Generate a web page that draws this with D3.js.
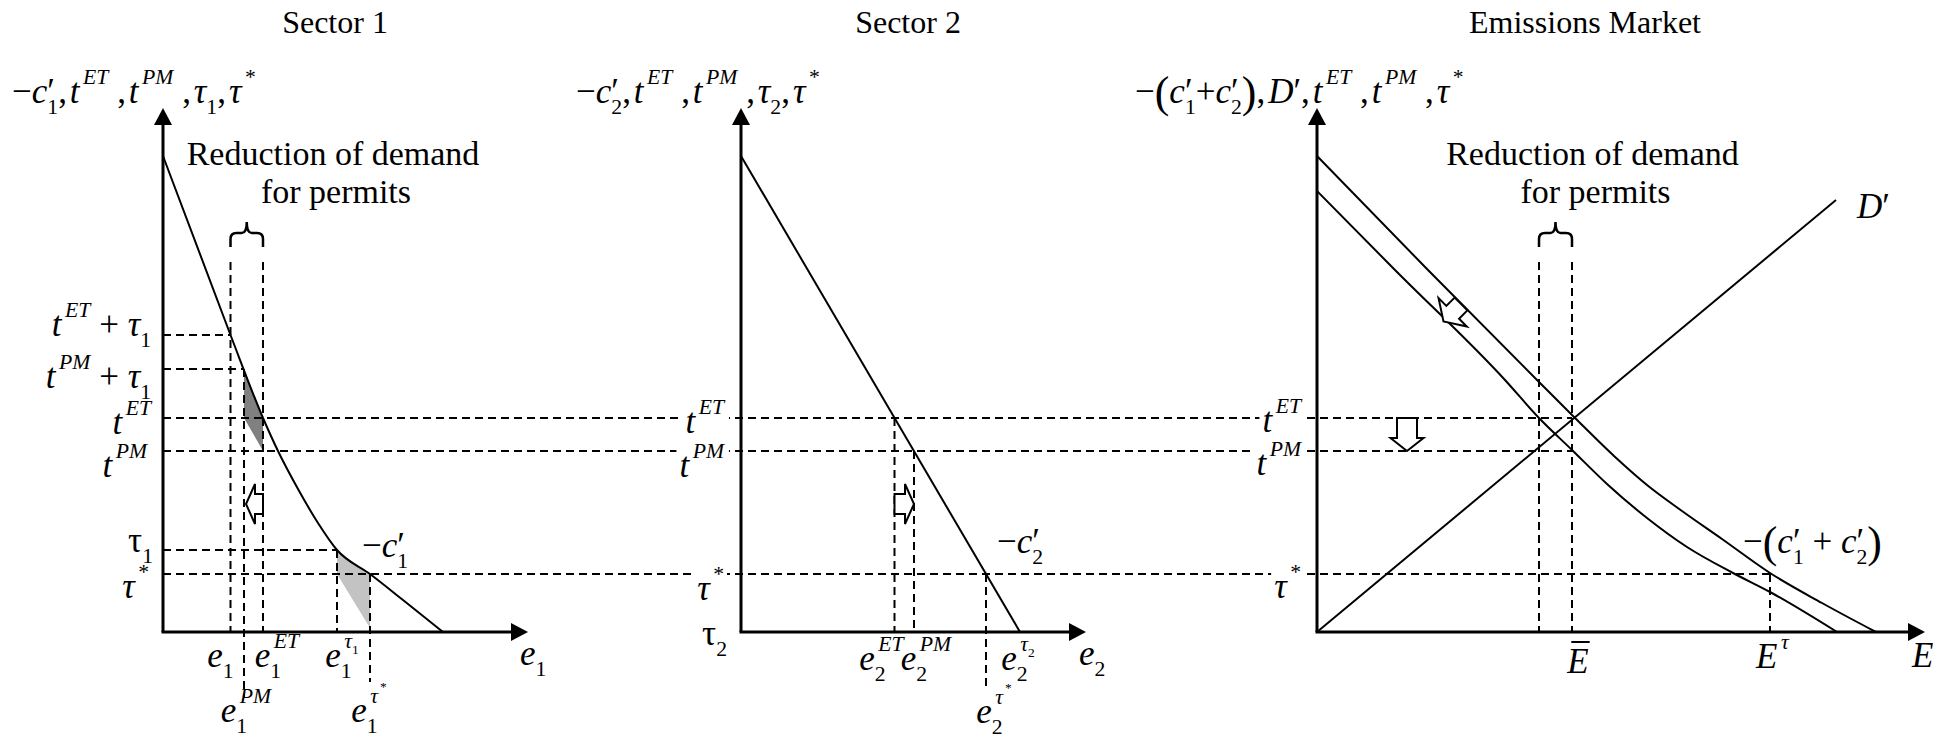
<!DOCTYPE html>
<html>
<head>
<meta charset="utf-8">
<script src="https://cdn.jsdelivr.net/npm/d3@7"></script>
<style>
    body { margin: 0; background: #fff; }
    svg text { font-family: "Liberation Serif", "Times New Roman", serif; fill: #000; }
</style>
</head>
<body>
<svg id="chart" width="1955" height="739"></svg>
<script>
(function() {
    // ---- values (common price scale 0..100) ----
    var titles = ["Sector 1", "Sector 2", "Emissions Market"];
    var tETtau1 = 59.4, tPMtau1 = 52.6, tET = 42.8, tPM = 36.2, tau1 = 16.4, tauStar = 11.6;

    var sector1Curve = [[0, 95.2], [13.5, 59.4], [20, 42.8], [23, 36.2], [27, 28.6], [31, 21.8],
        [34.8, 16.4], [41.4, 11.6], [48, 6.4], [56, 0]];
    var sector1Marks = [13.5, 16.2, 20, 34.8, 41.4];      // e1, e1PM, e1ET, e1tau1, e1tau*
    var darkPatch = [[16.2, 52.6], [20, 42.8], [20, 36.2], [16.2, 42.8]];
    var lightPatch = [[34.8, 16.4], [38.1, 13.7], [41.4, 11.6], [41.4, 0.8], [34.8, 11.6]];

    var sector2Line = [[0, 95.2], [55.8, 0]];
    var sector2Marks = [30.7, 34.6, 49.0];                 // e2ET, e2PM, e2tau*

    var demandUpper = [[0, 95.2], [22, 72.6], [44, 50.4], [51.6, 42.8], [59.4, 35.2], [66, 29.4],
        [73, 24.2], [81, 18.6], [90.6, 11.8], [101, 5.8], [111.8, 0]];
    var demandLower = [[0, 88.2], [15.6, 72.4], [37.6, 50.4], [44.4, 42.8], [51, 36.4], [58, 29.6],
        [66, 22.8], [74, 17], [83.2, 11.8], [90.6, 8], [104, 0]];
    var supplyD = [[0, 0], [103.8, 86.4]];
    var marketMarks = [44.4, 51, 90.6];                    // E bar (left / right), E tau

    var axisMax = [73, 69, 121.6];
    var yTop = 104.8, braceTop = 74;

    // ---- layout ----
    var origin = [163, 741, 1317];
    var svg = d3.select("#chart");
    var y = d3.scaleLinear().domain([0, 100]).range([632, 132]);
    var xs = origin.map(function(o) {
        return d3.scaleLinear().domain([0, 100]).range([o, o + 500]);
    });

    var curveLine = function(x) {
        return d3.line()
            .x(function(d) { return x(d[0]); })
            .y(function(d) { return y(d[1]); })
            .curve(d3.curveMonotoneX);
    };

    // shaded areas
    [[darkPatch, "#808080"], [lightPatch, "#c3c3c3"]].forEach(function(p) {
        svg.append("path")
            .attr("d", d3.line().x(function(d) { return xs[0](d[0]); }).y(function(d) { return y(d[1]); })(p[0]) + "Z")
            .attr("fill", p[1]);
    });

    // dashed guide lines
    var dashed = svg.append("g")
        .attr("stroke", "#000").attr("stroke-width", 2).attr("stroke-dasharray", "8,5").attr("fill", "none");
    var hLines = [
        [tETtau1, 0, sector1Marks[0]], [tPMtau1, 0, sector1Marks[1]],
        [tET, 2, marketMarks[1]], [tPM, 2, marketMarks[1]],
        [tau1, 0, sector1Marks[3]], [tauStar, 2, marketMarks[2]]
    ];
    hLines.forEach(function(h) {
        var x2 = h[1] === 0 ? xs[0](h[2]) : xs[2](h[2]);
        dashed.append("line").attr("x1", xs[0](0)).attr("x2", x2).attr("y1", y(h[0])).attr("y2", y(h[0]));
    });
    var vLines = [
        [0, sector1Marks[0], braceTop, 0], [0, sector1Marks[2], braceTop, 0],
        [0, sector1Marks[1], tPMtau1, -13], [0, sector1Marks[3], tau1, 0], [0, sector1Marks[4], tauStar, -10],
        [1, sector2Marks[0], tET, 0], [1, sector2Marks[1], tPM, 0], [1, sector2Marks[2], tauStar, -11.2],
        [2, marketMarks[0], braceTop, 0], [2, marketMarks[1], braceTop, 0], [2, marketMarks[2], tauStar, 0]
    ];
    vLines.forEach(function(v) {
        dashed.append("line").attr("x1", xs[v[0]](v[1])).attr("x2", xs[v[0]](v[1]))
            .attr("y1", y(v[2])).attr("y2", y(v[3]));
    });

    // curves
    var curves = svg.append("g").attr("fill", "none").attr("stroke", "#000").attr("stroke-width", 2);
    curves.append("path").attr("d", curveLine(xs[0])(sector1Curve));
    curves.append("path").attr("d", curveLine(xs[1])(sector2Line));
    curves.append("path").attr("d", curveLine(xs[2])(demandUpper));
    curves.append("path").attr("d", curveLine(xs[2])(demandLower));
    curves.append("path").attr("d", curveLine(xs[2])(supplyD));

    // axes with arrow heads
    xs.forEach(function(x, i) {
        svg.append("g").attr("transform", "translate(0," + y(0) + ")")
            .call(d3.axisBottom(x).tickValues([]).tickSizeOuter(0).tickSize(0))
            .call(function(g) {
                g.select(".domain").attr("d", "M" + (x(0) - 1.5) + ",0H" + (x(axisMax[i]) - 10))
                    .attr("stroke-width", 3);
            });
        svg.append("g").attr("transform", "translate(" + x(0) + ",0)")
            .call(d3.axisLeft(y).tickValues([]).tickSizeOuter(0).tickSize(0))
            .call(function(g) {
                g.select(".domain").attr("d", "M0," + y(0) + "V" + (y(yTop) + 10))
                    .attr("stroke-width", 3);
            });
        var tx = x(axisMax[i]), ty = y(0);
        svg.append("path").attr("d", "M" + tx + "," + ty + "l-17,-9v18z");
        var ux = x(0), uy = y(yTop);
        svg.append("path").attr("d", "M" + ux + "," + uy + "l-9,17h18z");
    });

    // braces
    [[0, sector1Marks[0], sector1Marks[2]], [2, marketMarks[0], marketMarks[1]]].forEach(function(b) {
        var xl = xs[b[0]](b[1]), xr = xs[b[0]](b[2]), xm = (xl + xr) / 2;
        var top = 233, bot = 247, peak = 222;
        svg.append("path")
            .attr("d", "M" + xl + "," + bot + "V" + (top + 6) + "Q" + xl + "," + top + " " + (xl + 6) + "," + top +
                "H" + (xm - 5) + "Q" + xm + "," + top + " " + xm + "," + peak +
                "Q" + xm + "," + top + " " + (xm + 5) + "," + top + "H" + (xr - 6) +
                "Q" + xr + "," + top + " " + xr + "," + (top + 6) + "V" + bot)
            .attr("fill", "none").attr("stroke", "#000").attr("stroke-width", 2.5);
    });

    // open (hollow) shift arrows
    function openArrow(x1, y1, x2, y2, s, H, h) {
        var dx = x2 - x1, dy = y2 - y1, L = Math.sqrt(dx * dx + dy * dy);
        var ang = Math.atan2(dy, dx) * 180 / Math.PI;
        var pts = [[0, -s], [L - h, -s], [L - h, -H], [L, 0], [L - h, H], [L - h, s], [0, s]];
        svg.append("path")
            .attr("d", "M" + pts.join("L") + "Z")
            .attr("transform", "translate(" + x1 + "," + y1 + ") rotate(" + ang + ")")
            .attr("fill", "#fff").attr("stroke", "#000").attr("stroke-width", 2);
    }
    openArrow(xs[0](sector1Marks[2]), y(25.6), xs[0](sector1Marks[1]) + 2, y(25.6), 10, 20, 9);
    openArrow(xs[1](sector2Marks[0]), y(25.6), xs[1](sector2Marks[1]), y(25.6), 10, 20, 9);
    openArrow(xs[2](18), y(tET), xs[2](18), y(tPM), 10, 16.5, 13);
    openArrow(xs[2](28.8), y(65.6), xs[2](25.3), y(62.1), 9, 20, 13);

    // ---- math labels ----
    // markup: _x / _{..} subscript, ^x / ^{..} superscript, ! = next char upright
    function parse(s) {
        var out = [], i = 0, up = false;
        while (i < s.length) {
            var ch = s[i];
            if (ch === "_" || ch === "^") {
                var body;
                if (s[i + 1] === "{") {
                    var depth = 1, j = i + 2;
                    while (depth) {
                        if (s[j] === "{") depth++;
                        else if (s[j] === "}") depth--;
                        j++;
                    }
                    body = s.slice(i + 2, j - 1);
                    i = j;
                } else {
                    body = s[i + 1];
                    i += 2;
                }
                out.push({type: ch === "_" ? "sub" : "sup", kids: parse(body)});
                continue;
            }
            if (ch === "!") { up = true; i++; continue; }
            var it = !up && /[A-Za-z\u03b1-\u03c9]/.test(ch);
            var big = ch === "(" || ch === ")";
            up = false;
            var last = out[out.length - 1];
            if (!big && last && last.type === "run" && !last.big && last.italic === it) last.text += ch;
            else out.push({type: "run", text: ch, italic: it, big: big});
            i++;
        }
        return out;
    }

    function layout(g, nodes, x, yy, size) {
        for (var i = 0; i < nodes.length; i++) {
            var n = nodes[i];
            if (n.type === "run") {
                var fs = n.big ? size * 1.25 : size;
                var t = g.append("text").attr("x", x).attr("y", n.big ? yy + size * 0.1 : yy)
                    .style("font-size", fs + "px")
                    .style("font-style", n.italic ? "italic" : "normal")
                    .text(n.text.replace(/ /g, "\u00a0"));
                x += t.node().getComputedTextLength();
            } else {
                var sub = null, sup = null;
                if (n.type === "sub") sub = n; else sup = n;
                var nx = nodes[i + 1];
                if (nx && nx.type !== "run" && nx.type !== n.type) {
                    if (nx.type === "sub") sub = nx; else sup = nx;
                    i++;
                }
                var x1 = x, x2 = x;
                if (sub) x1 = layout(g, sub.kids, x, yy + size * 0.3, size * 0.62);
                if (sup) {
                    var prime = sup.kids.length === 1 && sup.kids[0].text === "\u2032";
                    x2 = prime ? layout(g, sup.kids, x, yy, size)
                        : layout(g, sup.kids, x + size * 0.1, yy - size * 0.55, size * 0.62);
                }
                x = Math.max(x1, x2);
            }
        }
        return x;
    }

    function label(src, x, yy, anchor, opts) {
        opts = opts || {};
        var size = opts.size || 35;
        var g = svg.append("g");
        var w = layout(g, parse(src), 0, 0, size);
        if (opts.bar) {
            g.append("line").attr("x1", 4).attr("x2", w + 1).attr("y1", -31).attr("y2", -31)
                .attr("stroke", "#000").attr("stroke-width", 2);
        }
        var shift = anchor === "end" ? -w : anchor === "middle" ? -w / 2 : 0;
        g.attr("transform", "translate(" + (x + shift) + "," + yy + ")");
        if (opts.blank) {
            var bb = g.node().getBBox();
            g.insert("rect", ":first-child").attr("x", bb.x - 3).attr("y", bb.y)
                .attr("width", bb.width + 6).attr("height", bb.height).attr("fill", "#fff");
        }
        return g;
    }

    // titles and notes
    var titleX = [335, 908, 1585];
    titles.forEach(function(t, i) {
        svg.append("text").attr("x", titleX[i]).attr("y", 33).attr("text-anchor", "middle")
            .style("font-size", "32px").text(t);
    });
    [xs[0](sector1Marks[1]) + 89, xs[2](47.7) + 37].forEach(function(cx) {
        svg.append("text").attr("x", cx).attr("y", 165).attr("text-anchor", "middle")
            .style("font-size", "34px").text("Reduction of demand");
        svg.append("text").attr("x", cx + 3).attr("y", 203).attr("text-anchor", "middle")
            .style("font-size", "34px").text("for permits");
    });

    // vertical axis titles
    var hs = "\u200a";
    label("\u2212c_1^\u2032," + hs + "t^{ET} ," + hs + "t^{PM} ," + hs + "\u03c4_1," + hs + "\u03c4^*", 12, 103, "start");
    label("\u2212c_2^\u2032," + hs + "t^{ET} ," + hs + "t^{PM} ," + hs + "\u03c4_2," + hs + "\u03c4^*", 576, 103, "start");
    label("\u2212(c_1^\u2032+c_2^\u2032)," + hs + "D\u2032," + hs + "t^{ET} ," + hs + "t^{PM} ," + hs + "\u03c4^*",
        1135, 103, "start");

    // price labels left of each axis
    var p1 = xs[0](0) - 12;
    label("t^{ET} + \u03c4_1", p1, y(tETtau1) + 1, "end");
    label("t^{PM} + \u03c4_1", p1, y(tPMtau1) + 19, "end");
    label("t^{ET}", p1, y(tET) + 16, "end");
    label("t^{PM}", p1 - 4, y(tPM) + 26, "end");
    label("!\u03c4_1", p1 + 2, y(tau1) + 2, "end");
    label("\u03c4^*", p1 - 2, y(tauStar) + 24, "end");

    var p2 = xs[1](0) - 17;
    label("t^{ET}", p2, y(tET) + 15, "end", {blank: true});
    label("t^{PM}", p2, y(tPM) + 26, "end", {blank: true});
    label("\u03c4^*", p2, y(tauStar) + 26, "end", {blank: true});
    label("!\u03c4_2", p2 + 3, y(0) + 13, "end");

    var p3 = xs[2](0) - 16;
    label("t^{ET}", p3, y(tET) + 14, "end", {blank: true});
    label("t^{PM}", p3, y(tPM) + 24, "end", {blank: true});
    label("\u03c4^*", p3, y(tauStar) + 24, "end", {blank: true});

    // quantity labels
    var b1 = y(0) + 35, b2 = y(0) + 90;
    label("e_1", xs[0](sector1Marks[0]) - 10, b1, "middle");
    label("e_1^{ET}", xs[0](sector1Marks[2]) + 14, b1, "middle");
    label("e_1^{\u03c4_1}", xs[0](sector1Marks[3]) + 5, b1, "middle");
    label("e_1^{PM}", xs[0](sector1Marks[1]) + 2, b2, "middle");
    label("e_1^{\u03c4^*}", xs[0](sector1Marks[4]) - 1, b2, "middle");
    label("e_1", xs[0](axisMax[0]) - 8, b1 - 2, "start");
    label("\u2212c_1^\u2032", xs[0](39.8), y(tau1) + 7, "start");

    label("e_2^{ET}", xs[1](sector2Marks[0]) - 13, b1 + 3, "middle");
    label("e_2^{PM}", xs[1](sector2Marks[1]) + 12, b1 + 3, "middle");
    label("e_2^{\u03c4_2}", xs[1](sector2Line[1][0]) - 2, b1 + 3, "middle");
    label("e_2^{\u03c4^*}", xs[1](sector2Marks[2]) + 8, b2 + 1, "middle");
    label("e_2", xs[1](axisMax[1]) - 7, b1 - 2, "start");
    label("\u2212c_2^\u2032", xs[1](51.2), y(tau1) + 3, "start");

    label("E", xs[2](marketMarks[1]) + 6, b1 + 6, "middle", {bar: true});
    label("E^{\u03c4}", xs[2](marketMarks[2]) - 14, b1 + 1, "start");
    label("E", xs[2](axisMax[2]) - 13, b1, "start");
    label("\u2212(c_1^\u2032 + c_2^\u2032)", xs[2](85.2), y(tau1) + 3, "start");
    label("D\u2032", xs[2](108), y(85.6) + 14, "start");
})();
</script>
</body>
</html>
